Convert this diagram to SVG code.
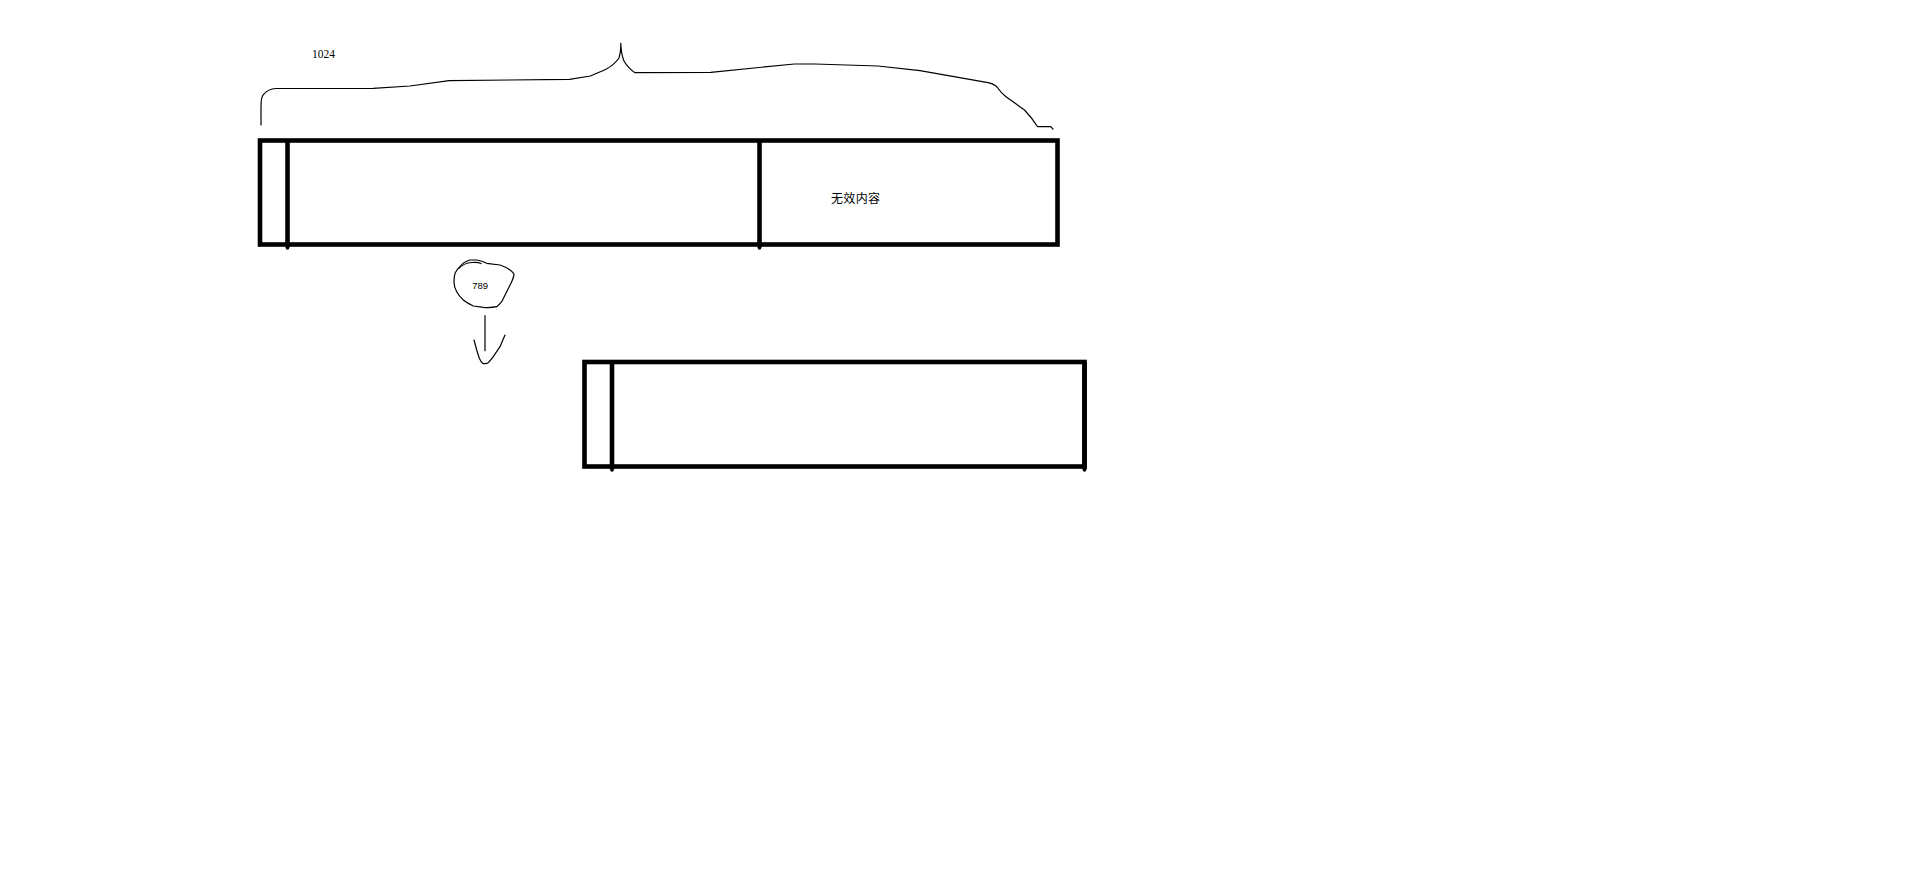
<svg xmlns="http://www.w3.org/2000/svg" width="1920" height="874" viewBox="0 0 1920 874">
  <style>
    .box { fill: none; stroke: #000; stroke-width: 4.6; }
    .bar { stroke: #000; stroke-width: 4.6; }
    .thin { fill: none; stroke: #000; stroke-width: 1.2; stroke-linejoin: round; stroke-linecap: round; }
    .dot { fill: #000; }
    .serif { font-family: "Liberation Serif", "Times New Roman", serif; }
    .sans { font-family: "Liberation Sans", Arial, sans-serif; }
    .cjk { font-family: "Noto Sans CJK SC", "Liberation Sans", sans-serif; }
  </style>
  <rect width="1920" height="874" fill="#fff"/>

  <g id="brace">
    <path class="thin" d="M261,125 L261,107 Q261,96 264,94 Q268,89 276,88.5 L373,88.3 L410,86 L449,80.7 L569.5,79.3 L590.4,76 Q600,72 606,69.3 Q614,65 619,58 Q621,52 620.8,43.3 Q621,54 624,61 Q628,68 635,72.7 L710.7,72.3 L794.4,64 L815,64 L878,66 L920,70.7 L988,82.7 Q994,84 997,87 Q1001,93 1006,96.7 L1024.5,110 Q1032,118 1037.6,126.7 L1050.7,126.7 L1053,129"/>
  </g>

  <g id="label-1024">
    <text class="serif" x="312" y="58.3" font-size="11.5" fill="#000">1024</text>
  </g>

  <g id="buffer-top">
    <rect class="box" x="260" y="140.5" width="797.5" height="104"/>
    <line class="bar" x1="287.5" y1="140.5" x2="287.5" y2="247.5"/>
    <line class="bar" x1="759.5" y1="140.5" x2="759.5" y2="247.5"/>
    <circle class="dot" cx="287.5" cy="248" r="1.8"/>
    <circle class="dot" cx="759.5" cy="248" r="1.8"/>
    <text class="cjk" x="831" y="202.5" font-size="12" fill="#000" textLength="49">无效内容</text>
  </g>

  <g id="circle-789">
    <path class="thin" d="M460,266.7 Q463,262 470,260 L476.7,260 Q482,261 486.7,263.3 L500,265 Q506,267 510,270 Q514,273 514,275 Q513,279 511.7,281.7 L506.7,291.7 L501.7,301.7 Q499,305 496.7,306.7 Q490,308 483.3,307.3 L473.3,306 Q467,303 463.3,300 Q459,296 456.7,291.7 Q454,287 454,281.7 Q454,277 455,273.3 Q457,269 460,266.7 Z"/>
    <path class="thin" d="M459,268 Q464,263 472,262.5 Q478,262 481,263.5"/>
    <text class="sans" x="472.3" y="288.5" font-size="9.5" fill="#000">789</text>
  </g>

  <g id="buffer-bottom">
    <rect class="box" x="584.5" y="362" width="500" height="104.5"/>
    <line class="bar" x1="612" y1="362" x2="612" y2="469.5"/>
    <line class="bar" x1="1084.5" y1="362" x2="1084.5" y2="469.5"/>
    <circle class="dot" cx="612" cy="470" r="1.8"/>
    <circle class="dot" cx="1084.5" cy="470" r="1.8"/>
  </g>

  <g id="connectors">
    <path class="thin" d="M485,315.7 L485,350.7"/>
    <path class="thin" d="M474,340 L476.7,350 L479.3,358.3 Q481,362 482.7,363.3 Q486,364 488.3,362.7 Q491,360 493.3,356.7 L500,346.7 L505,335"/>
  </g>
</svg>
